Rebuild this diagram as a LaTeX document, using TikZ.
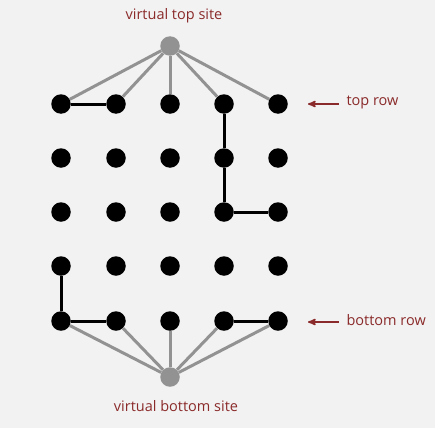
\documentclass[tikz,border=0pt]{standalone}
\usepackage{fontspec}
\setmainfont{Open Sans}
\usetikzlibrary{arrows}
\definecolor{bgcolor}{HTML}{F2F2F2}
\definecolor{labelred}{HTML}{8B2A2A}
\definecolor{virtualgray}{HTML}{929292}
\tikzset{
  site/.style={
    % The shape:
    circle,
    % The size:
    minimum size=19.5pt,inner sep=0pt,
    % The filling:
    fill=black},
  virtual/.style={
    circle,
    minimum size=19.5pt,inner sep=0pt,
    fill=virtualgray},
  label text/.style={
    text=labelred,
    font=\fontsize{14.5}{17}\selectfont},
  open link/.style={line width=3pt,draw=black},
  virtual link/.style={line width=3pt,draw=virtualgray}
}

\begin{document}
\begin{tikzpicture}[x=1pt,y=-1pt,>=stealth']
  \useasboundingbox[fill=bgcolor] (0,0) rectangle (435,428);

  % the grid of sites
  \foreach \col/\x in {0/61,1/116,2/170,3/224,4/278}
    \foreach \row/\y in {0/104,1/158,2/212,3/266,4/321}
      \node (s-\row-\col) [site] at (\x,\y) {};

  \node (top)    [virtual] at (170,46)  {};
  \node (bottom) [virtual] at (170,377) {};

  % links to the virtual sites
  \foreach \col in {0,...,4} {
    \draw[virtual link] (top) -- (s-0-\col);
    \draw[virtual link] (bottom) -- (s-4-\col);
  }

  % open links
  \draw[open link] (s-0-0) -- (s-0-1);
  \draw[open link] (s-0-3) -- (s-1-3) -- (s-2-3) -- (s-2-4);
  \draw[open link] (s-3-0) -- (s-4-0) -- (s-4-1);
  \draw[open link] (s-4-3) -- (s-4-4);

  % labels
  \node (top label)    [label text] at (174,16)  {virtual top site};
  \node (bottom label) [label text] at (176,406) {virtual bottom site};
  \node (top row)      [label text,anchor=west] at (343,102) {top row};
  \node (bottom row)   [label text,anchor=west] at (343,320) {bottom row};
  \coordinate (top tail)    at (339,104);
  \coordinate (top head)    at (308,104);
  \coordinate (bottom tail) at (339,322);
  \coordinate (bottom head) at (308,322);
  \draw[->,labelred,line width=1.6pt] (top tail) -- (top head);
  \draw[->,labelred,line width=1.6pt] (bottom tail) -- (bottom head);
\end{tikzpicture}
\end{document}
